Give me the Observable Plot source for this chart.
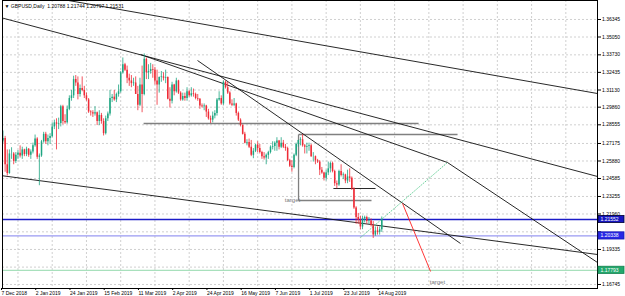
<!DOCTYPE html>
<html><head><meta charset="utf-8">
<script src="https://cdn.jsdelivr.net/npm/d3@7"></script>
<script src="https://cdn.jsdelivr.net/npm/@observablehq/plot@0.6"></script>
<style>body{margin:0;background:#fff}</style>
</head><body><div id="chart"></div>
<script>
// Daily bars, index 0 = 7 Dec 2018 ... 177 = 15 Aug 2019
const open = [
1.2735,1.2755,1.2560,1.2495,1.2640,1.2640,1.2585,1.2630,1.2645,1.2625,1.2670,1.2635,1.2675,1.2630,1.2655,1.2700,
1.2750,1.2615,1.2625,1.2730,1.2785,1.2730,1.2755,1.2770,1.2840,1.2870,1.2860,1.2865,1.2990,1.2880,1.2870,1.2970,1.3050,1.3070,1.3190,1.3165,1.3080,1.3125,
1.3110,1.3070,1.3040,1.2950,1.2945,1.2935,1.2945,1.2880,1.2925,1.2880,1.2790,1.2900,1.2935,1.3050,1.3060,1.3040,1.3080,1.3100,1.3240,1.3300,
1.3260,1.3200,1.3180,1.3160,1.3165,1.3080,1.3000,1.3150,1.3080,1.3340,1.3240,1.3250,1.3265,1.3260,1.3180,1.3150,1.3205,1.3210,1.3200,1.3205,1.3045,
1.3030,1.3150,1.3100,1.3180,1.3090,1.3040,1.3065,1.3050,1.3100,1.3070,1.3085,1.3080,1.3050,1.3045,1.2995,1.2990,1.2995,1.2950,1.2900,1.2890,1.2920,1.2940,
1.3040,1.3050,1.3010,1.3170,1.3130,1.3090,1.3010,1.3000,1.3010,1.2940,1.2890,1.2850,1.2785,1.2720,1.2725,1.2690,1.2630,1.2660,1.2705,1.2680,1.2650,1.2620,1.2610,
1.2630,1.2650,1.2690,1.2695,1.2720,1.2735,1.2690,1.2720,1.2690,1.2680,1.2590,1.2550,1.2540,1.2630,1.2710,1.2740,1.2745,1.2700,1.2690,1.2695,
1.2700,1.2620,1.2620,1.2590,1.2580,1.2520,1.2500,1.2460,1.2500,1.2530,1.2570,1.2510,1.2420,1.2410,1.2510,1.2480,1.2485,1.2440,1.2470,1.2460,1.2380,1.2240,1.2170,
1.2150,1.2100,1.2160,1.2170,1.2140,1.2145,1.2110,1.2040,1.2070,1.2060,1.2079];
const high = [
1.2810,1.2770,1.2670,1.2670,1.2686,1.2650,1.2650,1.2665,1.2700,1.2690,1.2675,1.2690,1.2680,1.2670,1.2720,1.2780,
1.2760,1.2640,1.2740,1.2800,1.2800,1.2780,1.2790,1.2870,1.2890,1.2900,1.2905,1.3000,1.3000,1.2930,1.2995,1.3070,1.3110,1.3215,1.3220,1.3210,1.3150,1.3210,
1.3140,1.3090,1.3050,1.2960,1.2960,1.2990,1.2950,1.2960,1.2940,1.2900,1.2920,1.2950,1.3110,1.3080,1.3110,1.3090,1.3150,1.3250,1.3350,1.3310,
1.3290,1.3230,1.3220,1.3200,1.3210,1.3140,1.3200,1.3290,1.3380,1.3350,1.3300,1.3310,1.3300,1.3280,1.3260,1.3210,1.3250,1.3240,1.3260,1.3210,1.3130,
1.3170,1.3155,1.3200,1.3185,1.3100,1.3090,1.3090,1.3130,1.3110,1.3130,1.3120,1.3090,1.3080,1.3050,1.3010,1.3010,1.3000,1.2970,1.2920,1.2950,1.2960,1.3050,
1.3100,1.3070,1.3180,1.3180,1.3170,1.3100,1.3040,1.3050,1.3015,1.2950,1.2900,1.2855,1.2800,1.2745,1.2750,1.2740,1.2680,1.2710,1.2730,1.2710,1.2660,1.2650,1.2640,
1.2660,1.2700,1.2730,1.2730,1.2760,1.2740,1.2760,1.2740,1.2710,1.2690,1.2600,1.2590,1.2640,1.2720,1.2740,1.2760,1.2783,1.2710,1.2720,1.2720,
1.2710,1.2650,1.2625,1.2600,1.2590,1.2540,1.2505,1.2520,1.2580,1.2580,1.2580,1.2520,1.2440,1.2520,1.2560,1.2500,1.2490,1.2520,1.2530,1.2470,1.2390,1.2250,1.2200,
1.2180,1.2180,1.2180,1.2180,1.2170,1.2160,1.2140,1.2100,1.2100,1.2100,1.2174];
const low = [
1.2720,1.2505,1.2477,1.2490,1.2600,1.2560,1.2570,1.2600,1.2610,1.2600,1.2620,1.2620,1.2615,1.2600,1.2640,1.2690,
1.2600,1.2405,1.2615,1.2720,1.2710,1.2700,1.2710,1.2760,1.2820,1.2670,1.2820,1.2840,1.2855,1.2860,1.2860,1.2960,1.3030,1.3050,1.3140,1.3040,1.3060,1.3100,
1.3050,1.3030,1.2940,1.2920,1.2910,1.2920,1.2850,1.2850,1.2860,1.2773,1.2780,1.2880,1.2920,1.3020,1.3030,1.3020,1.3060,1.3090,1.3230,1.3250,
1.3160,1.3140,1.3130,1.3140,1.3080,1.2960,1.2990,1.2945,1.3070,1.3190,1.3190,1.3230,1.3200,1.3150,1.3000,1.3090,1.3170,1.3180,1.3160,1.3040,1.2980,
1.3010,1.3070,1.3090,1.3080,1.3030,1.3030,1.3030,1.3030,1.3060,1.3060,1.3060,1.3040,1.3030,1.2970,1.2980,1.2960,1.2910,1.2890,1.2865,1.2870,1.2900,1.2920,
1.3030,1.3000,1.3000,1.3120,1.3080,1.3000,1.2990,1.2990,1.2920,1.2880,1.2840,1.2780,1.2715,1.2700,1.2680,1.2620,1.2605,1.2650,1.2650,1.2640,1.2600,1.2595,1.2560,
1.2600,1.2640,1.2670,1.2660,1.2660,1.2670,1.2680,1.2680,1.2660,1.2585,1.2540,1.2505,1.2530,1.2620,1.2690,1.2700,1.2690,1.2640,1.2640,1.2660,
1.2615,1.2580,1.2560,1.2570,1.2480,1.2490,1.2440,1.2440,1.2480,1.2500,1.2500,1.2400,1.2382,1.2400,1.2470,1.2450,1.2420,1.2420,1.2430,1.2370,1.2230,1.2120,1.2120,
1.2080,1.2080,1.2130,1.2120,1.2120,1.2100,1.2015,1.2030,1.2040,1.2040,1.2060];
const close = [
1.2755,1.2560,1.2495,1.2640,1.2640,1.2585,1.2630,1.2645,1.2625,1.2670,1.2635,1.2675,1.2630,1.2655,1.2700,1.2750,
1.2615,1.2625,1.2730,1.2785,1.2730,1.2755,1.2770,1.2840,1.2870,1.2860,1.2865,1.2990,1.2880,1.2870,1.2970,1.3050,1.3070,1.3190,1.3165,1.3080,1.3125,1.3110,
1.3070,1.3040,1.2950,1.2945,1.2935,1.2945,1.2880,1.2925,1.2880,1.2790,1.2900,1.2935,1.3050,1.3060,1.3040,1.3080,1.3100,1.3240,1.3300,1.3260,
1.3200,1.3180,1.3160,1.3165,1.3080,1.3000,1.3150,1.3080,1.3340,1.3240,1.3250,1.3265,1.3260,1.3180,1.3150,1.3205,1.3210,1.3200,1.3205,1.3045,1.3030,
1.3150,1.3100,1.3180,1.3090,1.3040,1.3065,1.3050,1.3100,1.3070,1.3085,1.3080,1.3050,1.3045,1.2995,1.2990,1.2995,1.2950,1.2900,1.2890,1.2920,1.2940,1.3040,
1.3050,1.3010,1.3170,1.3130,1.3090,1.3010,1.3000,1.3010,1.2940,1.2890,1.2850,1.2785,1.2720,1.2725,1.2690,1.2630,1.2660,1.2705,1.2680,1.2650,1.2620,1.2610,1.2630,
1.2650,1.2690,1.2695,1.2720,1.2735,1.2690,1.2720,1.2690,1.2680,1.2590,1.2550,1.2540,1.2630,1.2710,1.2740,1.2745,1.2700,1.2690,1.2695,1.2700,
1.2620,1.2620,1.2590,1.2580,1.2520,1.2500,1.2460,1.2500,1.2530,1.2570,1.2510,1.2420,1.2410,1.2510,1.2480,1.2485,1.2440,1.2470,1.2460,1.2380,1.2240,1.2170,1.2150,
1.2100,1.2160,1.2170,1.2140,1.2145,1.2110,1.2040,1.2070,1.2060,1.2079,1.2153];

const xTickIndex = [0,16,32,48,64,80,96,112,128,144,160,176];
const xTickLabels = ["7 Dec 2018","2 Jan 2019","24 Jan 2019","15 Feb 2019","11 Mar 2019","2 Apr 2019","24 Apr 2019","16 May 2019","7 Jun 2019","1 Jul 2019","23 Jul 2019","14 Aug 2019"];
const yTicks = [1.36345,1.35050,1.33730,1.32435,1.31130,1.29860,1.28555,1.27175,1.25880,1.24585,1.23255,1.21960,1.20640,1.19335,1.18030,1.16745];
const yHiddenLabels = [1.20640, 1.18030]; // covered by the level boxes
const gridX = [7,23,39,55,71,87,103,119,135,151,167,183,199,215,231,247,263];

// horizontal price levels with their label colours
const levelPrice = [1.21552, 1.20338, 1.17793];
const levelLine = ["#1c1cc8", "#9a9af2", "#a8e0bc"];
const levelBox = ["#1616c0", "#2828e6", "#22a86c"];
const levelBorder = ["#000030", "#1a1ab0", "#14804f"];

// trend lines: [bar1, price1, bar2, price2]
const trendBlack = [
  [30.6, 1.3775, 277.8, 1.3087],
  [-1.2, 1.36493, 277.8, 1.24733],
  [64.3, 1.33756, 207.7, 1.25768],
  [-1.2, 1.24807, 277.8, 1.18963],
  [90.9, 1.33312, 213.8, 1.19777],
  [207.7, 1.25768, 277.8, 1.18372],
  [154.4, 1.23845, 174.1, 1.23845]
];
const trendGray = [
  [65.7, 1.28653, 194.2, 1.28653],
  [138.1, 1.27839, 212.4, 1.27839],
  [138.1, 1.27839, 138.1, 1.22957],
  [138.1, 1.22957, 172.2, 1.22957]
];
const trendRed = [[186.7, 1.22736, 199.8, 1.17706]];
const trendGreen = [[167.1, 1.20221, 207.7, 1.25768]];
const targetText = [[135.3, 1.22957, "target"], [203.0, 1.16893, "target"]];
const titleText = "\u25BC GBPUSD,Daily  1.20788 1.21744 1.20797 1.21531";

const bars = open.map((o, i) => ({i, open: o, high: high[i], low: low[i], close: close[i], up: close[i] >= o}));
const seg = a => a.map(([x1, y1, x2, y2]) => ({x1, y1, x2, y2}));
const UP = "#1ea581", DN = "#ee2b36";

const labelBoxes = (index, scales, values, dims) => {
  const g = d3.create("svg:g");
  const x0 = dims.width - dims.marginRight;
  levelPrice.forEach((p, k) => {
    const y = scales.y(p);
    g.append("rect").attr("x", x0 + 1).attr("y", y - 3.6).attr("width", dims.width - x0 - 2).attr("height", 7.2)
      .attr("fill", levelBox[k]).attr("stroke", levelBorder[k]).attr("stroke-width", 0.8);
    g.append("text").attr("x", x0 + 3.5).attr("y", y).attr("dy", "0.35em").attr("fill", "#fff")
      .attr("text-anchor", "start").attr("font-size", 5)
      .attr("font-family", "Liberation Sans, Arial, sans-serif").text(p.toFixed(5));
  });
  return g.node();
};

const chart = Plot.plot({
  width: 625, height: 296,
  marginLeft: 2, marginRight: 28, marginTop: 0, marginBottom: 8,
  x: {domain: [-0.23, 277.8]},
  y: {domain: [1.16449, 1.3775]},
  style: {fontFamily: "Liberation Sans, Arial, sans-serif", fontSize: "5px", background: "#fff", color: "#000"},
  marks: [
    Plot.ruleY(yTicks, {stroke: "#c4c4c4", strokeDasharray: "2,2", strokeWidth: 0.8}),
    Plot.ruleX(gridX, {stroke: "#c4c4c4", strokeDasharray: "2,2", strokeWidth: 0.8}),
    Plot.ruleY(levelPrice, {stroke: (d, k) => levelLine[k], strokeWidth: 1.4}),
    Plot.link(seg(trendGray), {x1: "x1", y1: "y1", x2: "x2", y2: "y2", stroke: "#808080", strokeWidth: 1.3, clip: true}),
    Plot.link(seg(trendBlack), {x1: "x1", y1: "y1", x2: "x2", y2: "y2", stroke: "#111", strokeWidth: 0.9, clip: true}),
    Plot.link(seg(trendRed), {x1: "x1", y1: "y1", x2: "x2", y2: "y2", stroke: "#ff2020", strokeWidth: 0.9}),
    Plot.link(seg(trendGreen), {x1: "x1", y1: "y1", x2: "x2", y2: "y2", stroke: "#55c98c", strokeWidth: 0.9, strokeDasharray: "1.5,1"}),
    Plot.ruleX(bars, {x: "i", y1: "low", y2: "high", stroke: d => d.up ? UP : DN, strokeWidth: 0.8}),
    Plot.ruleX(bars, {x: "i", y1: "open", y2: "close", stroke: d => d.up ? UP : DN, strokeWidth: 1.5}),
    Plot.text(targetText, {x: d => d[0], y: d => d[1], text: d => d[2], fill: "#7a7a7a", fontSize: 6}),
    Plot.text([titleText], {frameAnchor: "top-left", dx: 2, dy: 3.5, fill: "#000", fontSize: 5, textAnchor: "start"}),
    Plot.axisY(yTicks, {anchor: "right", tickSize: 3, tickPadding: 1.5, tickFormat: d => yHiddenLabels.includes(d) ? "" : d.toFixed(5), fontSize: 5}),
    Plot.axisX(xTickIndex, {anchor: "bottom", tickSize: 2, tickPadding: 1, tickFormat: d => xTickLabels[xTickIndex.indexOf(d)], textAnchor: "start", dx: -1.5, fontSize: 5}),
    Plot.frame({stroke: "#000", strokeWidth: 1}),
    labelBoxes
  ]
});
document.getElementById("chart").append(chart);
</script>
</body></html>
